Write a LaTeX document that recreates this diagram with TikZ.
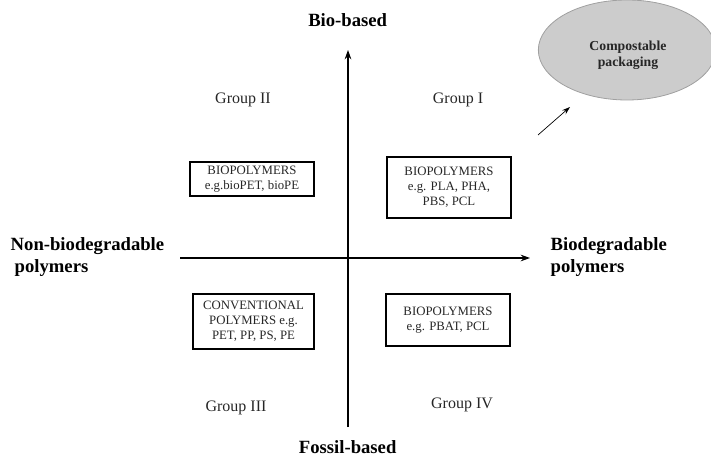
\documentclass[tikz,border=0pt]{standalone}
\usepackage{fontspec}
\setmainfont{Liberation Serif}
\usetikzlibrary{arrows.meta,shapes.geometric}
\definecolor{bubblefill}{HTML}{CCCCCC}
\definecolor{bubbleline}{HTML}{A0A0A0}
\tikzset{
  axislabel/.style={font=\fontsize{14}{17}\selectfont\bfseries, align=left},
  grouplabel/.style={font=\fontsize{12}{14}\selectfont, text=black!85},
  polybox/.style={draw, line width=0.9pt, align=center, inner sep=0pt,
    font=\fontsize{9.6}{11.25}\selectfont, text=black!85},
  axisline/.style={line width=0.8pt, -{Stealth[length=7pt, width=5pt]}}
}
\begin{document}
\begin{tikzpicture}[x=0.75pt, y=-0.75pt]
            \useasboundingbox (0,0) rectangle (711,460);
            {

            % Axes end points
            \coordinate (vbot) at (348,427);%
            \coordinate (vtop) at (348,50);%
            \coordinate (hleft) at (180,258);%
            \coordinate (hright) at (530,258);%

            % Drawing vertical axis
            \draw [axisline] (vbot) -- (vtop);%

            % Drawing horizontal axis
            \draw [axisline] (hleft) -- (hright);%

            % Marking axis labels
            \node [axislabel] (bio) at (350,20) { Bio-based };%
            \node [axislabel] (fossil) at (350,447) { Fossil-based };%
            \node [axislabel, anchor=west] (nonbio) at (6,257) { Non-biodegradable\\\hspace{3pt}polymers };%
            \node [axislabel, anchor=west] (biodeg) at (546,257) { Biodegradable\\polymers };%

            % Marking group labels
            \node [grouplabel] (g2) at (243,100) { Group II };%
            \node [grouplabel] (g1) at (458,100) { Group I };%
            \node [grouplabel] (g3) at (236,408) { Group III };%
            \node [grouplabel] (g4) at (462,405) { Group IV };%

            % Drawing polymer boxes
            \node [polybox, minimum width=93pt, minimum height=25.5pt] (boxII) at (252,179)
              { BIOPOLYMERS\\e.g.bioPET, bioPE };%
            \node [polybox, minimum width=93pt, minimum height=45.75pt] (boxI) at (449,187.5)
              { BIOPOLYMERS\\e.g. PLA, PHA,\\PBS, PCL };%
            \node [polybox, minimum width=90.75pt, minimum height=41.25pt] (boxIII) at (253.5,321.5)
              { CONVENTIONAL\\POLYMERS e.g.\\PET, PP, PS, PE };%
            \node [polybox, minimum width=93pt, minimum height=39pt] (boxIV) at (448,320)
              { BIOPOLYMERS\\e.g. PBAT, PCL };%

            % Drawing compostable packaging bubble
            \node [ellipse, draw=bubbleline, fill=bubblefill, line width=0.6pt,
              inner sep=0pt, minimum width=133pt, minimum height=75pt] (bubble) at (627,50) {};%
            \node [font=\fontsize{10.3}{12}\selectfont\bfseries, align=center, text=black!85] (bubbletext) at (628,55)
              { Compostable\\packaging };%

            % Drawing arrow to bubble
            \coordinate (arrfoot) at (538,135);%
            \coordinate (arrtip) at (570,107);%
            \draw [line width=0.5pt, -{Stealth[length=6pt, width=4pt]}] (arrfoot) -- (arrtip);%
            }
        \end{tikzpicture}
\end{document}
